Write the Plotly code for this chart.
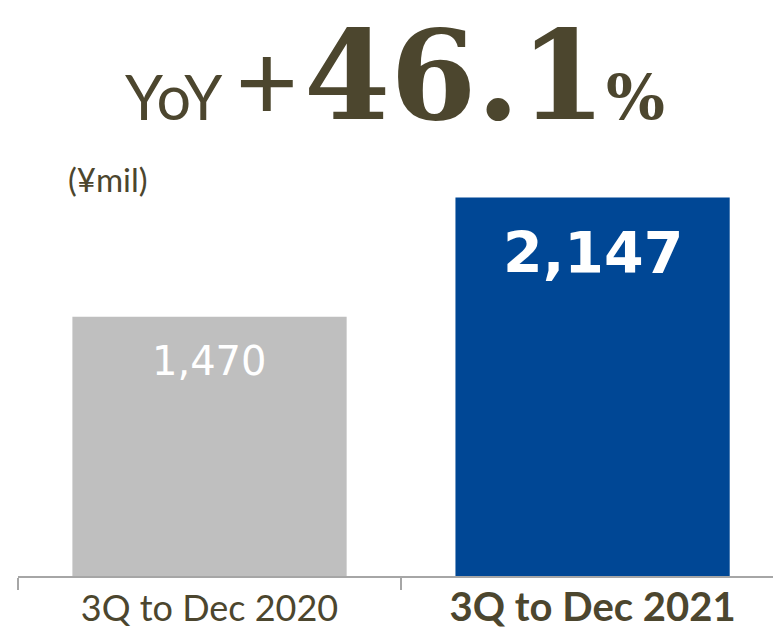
import plotly.graph_objects as go

categories = ["3Q to Dec 2020", "3Q to Dec 2021"]
tick_labels = ["3Q to Dec 2020",
               "<span style='font-size:40px'><b>3Q to Dec 2021</b></span>"]
values = [1470, 2147]
value_labels = ["1,470", "<b>2,147</b>"]
bar_colors = ["#BFBFBF", "#004795"]
yoy_prefix = "YoY"
yoy_text = "46.1"
unit_text = "(¥mil)"

TXT = "#4C462E"

fig = go.Figure()
fig.add_trace(go.Bar(
    x=categories, y=values, marker_color=bar_colors, width=0.716,
    marker_line_width=0, hoverinfo="skip",
))

# value labels inside bars
label_sizes = [40, 57]
label_shift = [-44, -56]
for c, v, t, s, sh in zip(categories, values, value_labels, label_sizes, label_shift):
    fig.add_annotation(x=c, y=v, xref="x", yref="y", text=t, showarrow=False,
                       yanchor="middle", xanchor="center", yshift=sh,
                       font=dict(family="DejaVu Sans", size=s, color="white"))

fig.add_annotation(
    xref="paper", yref="paper", x=0.119, y=0.834, xanchor="center", yanchor="middle",
    text=unit_text, showarrow=False,
    font=dict(family="Lato", size=33, color=TXT))

# headline: "YoY +" part
fig.add_annotation(
    xref="paper", yref="paper", x=0.374, y=0.906, xanchor="right", yanchor="bottom",
    text=(f"<span style='font-size:61px'>{yoy_prefix} </span>"
          "<span style='font-size:108px'>+</span>"),
    showarrow=False, font=dict(color=TXT, family="Lato", size=61))

# headline: "46.1%" part
fig.add_annotation(
    xref="paper", yref="paper", x=0.376, y=1.208, xanchor="left", yanchor="top",
    text=(f"<span style='font-size:124px'><b>{yoy_text}</b></span>"
          "<span style='font-size:62px'><b>%</b></span>"),
    showarrow=False, font=dict(color=TXT, family="DejaVu Serif", size=124))

fig.update_layout(
    width=773, height=632,
    margin=dict(l=18, r=0, t=100, b=56),
    paper_bgcolor="white", plot_bgcolor="white",
    showlegend=False,
    xaxis=dict(
        type="category", range=[-0.5, 1.471],
        tickmode="array", tickvals=categories, ticktext=tick_labels,
        tickson="boundaries", ticks="outside", ticklen=12, tickcolor="#A6A6A6", tickwidth=1.5,
        showline=True, linecolor="#A6A6A6", linewidth=1.5,
        showgrid=False, zeroline=False,
        tickfont=dict(family="Lato", size=36, color=TXT),
    ),
    yaxis=dict(range=[0, 2700], visible=False, showgrid=False, zeroline=False),
)

fig.write_html("out.html")
